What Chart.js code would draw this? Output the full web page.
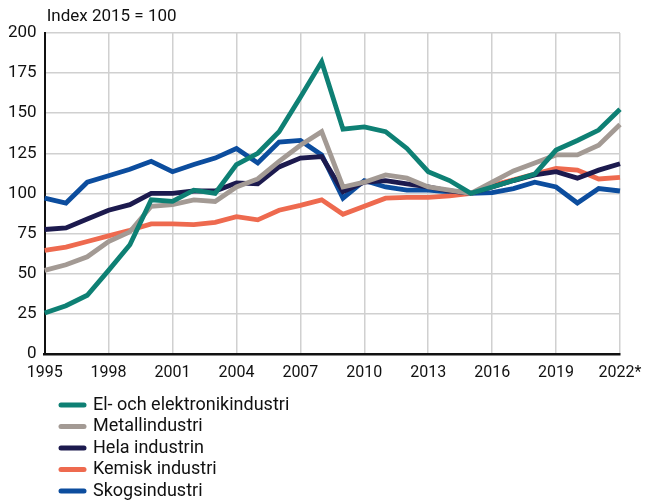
<!DOCTYPE html>
<html>
<head>
<meta charset="utf-8">
<script src="https://cdn.jsdelivr.net/npm/chart.js@4/dist/chart.umd.min.js"></script>
<style>
  html, body { margin: 0; padding: 0; background: #fff; }
  #wrap { width: 647px; height: 500px; }
</style>
</head>
<body>
<div id="wrap"><canvas id="myChart" width="647" height="500"></canvas></div>
<script>
var years = ['1995','1996','1997','1998','1999','2000','2001','2002','2003','2004',
             '2005','2006','2007','2008','2009','2010','2011','2012','2013','2014',
             '2015','2016','2017','2018','2019','2020','2021','2022*'];

var elektronik = [25.4,30,36.5,52,68,96,95,102,100,118,125,138.5,160,182,140,141.5,138.5,128,113.5,108,100,104,108,112,127,133,139.5,152.5];
var metall     = [52,55.5,60.5,70,76,92,93,96,95,104,109,120,130,138.5,104,107,111.5,109.5,104,102,100,107,114,119,124,124,130,143];
var hela       = [77.5,78.5,84,89.5,93,100,100,101.5,101.5,106.5,106,116.5,122,123,101,107,108,106,104,101.5,100,104,108,111.5,113.5,109.5,114.5,118.5];
var kemisk     = [64.5,66.5,70,73.5,77,81,81,80.5,82,85.5,83.5,89.5,92.5,96,87,92,97,97.5,97.5,98.5,100,105,108.5,112,115.5,114.5,109,110];
var skog       = [97,94,107,111,115,120,113.5,118,122,128,119,132,133,124,97,108,104,102,102,101,100,100.5,103,107,104,94,103,101.5];

var seriesNames = ['El- och elektronikindustri','Metallindustri','Hela industrin','Kemisk industri','Skogsindustri'];
var seriesColors = ['#0e8074','#a39a94','#1c1a4e','#ee6a4f','#0c4d9e'];

var fontFam = "'Liberation Sans Narrow', Roboto, sans-serif";

var extras = {
    id: 'extras',
    afterDraw: function(chart) {
        var c = chart.ctx;
        c.save();
        c.fillStyle = '#111';
        c.font = '17px ' + fontFam;
        c.textBaseline = 'middle';
        c.fillText('Index 2015 = 100', chart.chartArea.left + 2, 17);
        c.font = '18px ' + fontFam;
        chart.data.datasets.forEach(function(ds, i) {
            var y = 405 + i * 21.5;
            c.strokeStyle = ds.borderColor;
            c.lineWidth = 5;
            c.lineCap = 'round';
            c.beginPath();
            c.moveTo(61, y);
            c.lineTo(84, y);
            c.stroke();
            c.fillStyle = '#111';
            c.fillText(ds.label, 93, y);
        });
        c.restore();
    }
};

var allData = [elektronik, metall, hela, kemisk, skog];
var ctx = document.getElementById('myChart').getContext('2d');
var myChart = new Chart(ctx, {
    type: 'line',
    data: {
        labels: years,
        datasets: allData.map(function(d, i) {
            return {
                label: seriesNames[i],
                data: d,
                borderColor: seriesColors[i],
                backgroundColor: seriesColors[i],
                borderWidth: 4.8,
                pointRadius: 0,
                tension: 0,
                fill: false
            };
        })
    },
    options: {
        responsive: false,
        animation: false,
        layout: { padding: { top: 33, bottom: 107, left: 0, right: 0 } },
        plugins: {
            legend: { display: false },
            tooltip: { enabled: false }
        },
        scales: {
            x: {
                afterFit: function(scale) { scale.paddingRight = 27; },
                grid: {
                    color: function(c) { return c.index % 3 === 0 ? '#d0d0d0' : 'transparent'; },
                    lineWidth: 1.5,
                    drawTicks: false
                },
                border: { color: '#111', width: 2.5 },
                ticks: {
                    autoSkip: false,
                    maxRotation: 0,
                    padding: 10,
                    color: '#111',
                    font: { size: 16, family: fontFam },
                    callback: function(v, i) { return i % 3 === 0 ? years[i] : ''; }
                }
            },
            y: {
                min: 0,
                max: 200,
                ticks: {
                    stepSize: 25,
                    padding: 8,
                    color: '#111',
                    font: { size: 17, family: fontFam }
                },
                grid: { color: '#d0d0d0', lineWidth: 1.5, drawTicks: false },
                border: { color: '#111', width: 2 }
            }
        }
    },
    plugins: [extras]
});
</script>
</body>
</html>
